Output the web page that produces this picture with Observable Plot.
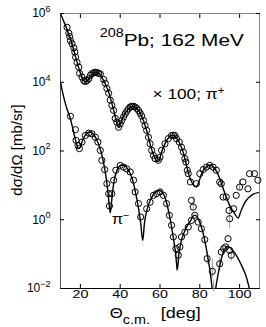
<!DOCTYPE html>
<html><head><meta charset="utf-8">
<script src="https://cdn.jsdelivr.net/npm/d3@7"></script>
<script src="https://cdn.jsdelivr.net/npm/@observablehq/plot@0.6"></script>
<style>body{margin:0;background:#fff}</style>
</head><body><div id="chart"></div>
<script>
// pi+ (x100) data points: angle [deg], log10(dσ/dΩ)
const plusTheta = [13.3,14.2,14.6,15.0,15.8,16.7,17.2,17.6,18.3,19.2,19.6,20.8,21.7,22.5,23.3,24.2,25.0,25.8,26.7,27.5,28.3,29.2,30.0,31.7,32.5,33.3,34.2,35.0,35.8,36.7,37.5,38.3,39.2,40.0,40.8,41.7,42.5,43.3,44.2,45.0,45.8,46.7,47.5,48.3,49.2,50.0,50.8,51.7,52.5,53.3,54.2,55.0,55.8,56.7,57.5,59.2,60.0,60.8,62.5,64.2,65.8,66.7,67.5,68.3,69.7,70.8,71.7,72.5,73.0,73.7,74.2,75.3,78.3,80.0,81.7,83.3,85.0,86.7,88.3,90.0,90.8,91.7,93.3,94.7,95.0,97.0,98.3,100.0,101.7,104.2,105.0,107.5,109.2];
const plusLog = [5.60,5.43,5.33,5.21,5.12,5.00,4.88,4.73,4.58,4.44,4.26,4.15,4.05,4.02,4.05,4.10,4.20,4.25,4.28,4.29,4.28,4.26,4.24,4.08,3.97,3.82,3.68,3.48,3.33,3.18,2.95,2.84,2.69,2.79,2.89,2.99,3.08,3.16,3.23,3.28,3.30,3.30,3.28,3.24,3.18,3.10,3.02,2.89,2.74,2.60,2.40,2.21,2.02,1.87,1.78,1.73,1.82,2.02,2.21,2.36,2.45,2.46,2.45,2.36,2.26,2.11,1.97,1.78,1.68,1.44,1.34,1.10,1.05,1.34,1.46,1.53,1.58,1.53,1.44,1.10,1.05,0.66,0.66,0.27,0.03,0.32,0.71,0.95,1.10,0.90,1.34,1.34,1.15];
// pi- data points
const minusTheta = [15.0,17.5,17.8,18.8,19.5,20.8,22.5,24.2,25.8,27.5,28.8,30.0,30.8,32.2,33.3,34.2,34.6,35.8,36.7,37.8,40.0,41.7,43.3,45.0,46.7,47.5,49.2,50.3,53.3,55.0,56.7,58.3,60.0,61.7,63.3,64.7,65.8,66.7,68.0,69.2,70.0,70.8,72.5,74.2,75.8,75.8,76.7,77.5,79.2,80.8,82.5,83.7,86.3,90.0,90.8,92.0,93.0,94.2,95.0,95.8];
const minusLog = [3.01,2.62,2.31,2.16,2.07,2.26,2.45,2.52,2.50,2.40,2.26,2.02,1.73,1.46,1.05,0.76,0.40,0.76,1.15,1.44,1.58,1.53,1.48,1.39,1.15,0.81,0.47,0.08,0.32,0.51,0.71,0.76,0.81,0.71,0.47,0.13,-0.16,-0.50,-0.84,-1.03,-0.79,-0.50,-0.36,-0.21,-0.02,0.56,0.37,0.13,-0.07,-0.26,-0.58,-1.13,-1.50,-1.28,-0.94,-0.84,-0.79,-0.55,-0.89,-1.03];
// theory curves
const plusCurveTheta = [10,12,14,16,18,20,21.5,23,24.5,26,27.8,29.5,31,32.5,34,35.5,37,38.3,39.3,40.5,42,43.5,45,46.5,48,49.5,51,52.5,54,55.5,57,58.5,59.4,60.5,62,63.5,65,66.5,68,69.5,71,72.5,74,75.5,77,78.3,79.5,81,82.5,84,85.5,87,88.5,90,91.5,93.3,95,97.5,99.2,100.8,103.3,106.7,110];
const plusCurveLog = [6.0,5.72,5.42,5.07,4.65,4.27,4.07,4.02,4.12,4.25,4.30,4.25,4.12,3.95,3.75,3.45,3.12,2.82,2.68,2.85,3.05,3.18,3.27,3.30,3.26,3.15,2.98,2.75,2.45,2.10,1.85,1.70,1.70,1.92,2.15,2.32,2.42,2.46,2.40,2.27,2.07,1.78,1.42,1.15,1.00,0.96,1.10,1.35,1.50,1.57,1.59,1.53,1.40,1.20,0.95,0.66,0.42,0.18,0.05,0.27,0.56,0.74,0.80];
const minusCurveTheta = [10,11,12,13,14,15,16,17,18,19,20,21,22.5,24,26,28,30,31.5,33,34.2,35,35.8,37,38.5,40,42,44,46,47.5,49,50.3,51.3,52.3,53.5,55,56.5,58,60,62,63.5,65,66.5,67.8,68.7,69.6,71,72.5,74,75.5,77,78.5,80,81.5,83,84.5,85.6,86.4,87.1,88,89,90,91,92,93.5,95,97,99,101,103,104.5,105.5,107];
const minusCurveLog = [4.0,3.72,3.48,3.27,3.10,2.93,2.70,2.45,2.22,2.07,2.12,2.30,2.47,2.55,2.52,2.35,2.05,1.70,1.20,0.60,0.20,0.60,1.15,1.45,1.58,1.58,1.46,1.20,0.85,0.40,-0.10,-0.60,-0.05,0.30,0.55,0.72,0.82,0.85,0.72,0.45,0.05,-0.45,-0.95,-1.45,-0.95,-0.55,-0.32,-0.15,-0.02,0.13,0.10,-0.08,-0.35,-0.75,-1.25,-1.70,-2.10,-2.60,-2.00,-1.65,-1.35,-1.10,-0.92,-0.78,-0.80,-0.92,-1.10,-1.33,-1.60,-1.90,-2.20,-2.70];
// error bars: angle, log10 low, log10 high
const errTheta = [95.0,100.0,76.7,68.3,83.7,86.3,87.0,90.0,95.8];
const errLo = [-0.25,0.85,0.30,-1.50,-1.30,-1.70,-2.10,-1.50,-1.20];
const errHi = [0.40,1.15,0.66,-1.20,-0.95,-1.15,-1.75,-1.10,-0.85];
const xTicks = [20,40,60,80,100];
const yTicks = [1e-2,1,1e2,1e4,1e6];

const toRows = (t, l) => t.map((th, i) => ({theta: th, v: Math.pow(10, l[i])}));
const plus = toRows(plusTheta, plusLog);
const minus = toRows(minusTheta, minusLog);
const plusCurve = toRows(plusCurveTheta, plusCurveLog);
const minusCurve = toRows(minusCurveTheta, minusCurveLog);
const errs = errTheta.map((t, i) => ({theta: t, lo: Math.pow(10, errLo[i]), hi: Math.pow(10, errHi[i])}));

const font = "'Liberation Sans', Arial, Helvetica, sans-serif";
const plot = Plot.plot({
  width: 266, height: 327,
  marginTop: 13, marginRight: 7, marginBottom: 39, marginLeft: 60,
  style: {fontFamily: font, fontSize: "12px", background: "white", color: "black"},
  x: {domain: [10, 110]},
  y: {type: "log", domain: [1e-2, 1e6]},
  marks: [
    Plot.frame({stroke: "#888"}),
    Plot.ruleY([1e-2], {stroke: "black"}),
    Plot.ruleX([10], {stroke: "#555"}),
    Plot.axisX({ticks: xTicks, tickSize: 0, tickPadding: 2, fontSize: 11, tickFormat: d => String(d), label: null}),
    Plot.axisX({ticks: xTicks, tickSize: -4, tickFormat: () => "", label: null}),
    Plot.axisX({anchor: "top", ticks: xTicks, tickSize: -4, tickFormat: () => "", label: null}),
    Plot.axisY({ticks: yTicks, tickSize: 0, tickPadding: 10, tickFormat: d => "10^" + Math.round(Math.log10(d)), label: null}),
    Plot.axisY({ticks: yTicks, tickSize: -4, tickFormat: () => "", label: null}),
    Plot.axisY({anchor: "right", ticks: yTicks, tickSize: -4, tickFormat: () => "", label: null}),
    Plot.ruleX(errs, {x: "theta", y1: "lo", y2: "hi", stroke: "#999", strokeWidth: 1}),
    Plot.line(plusCurve, {x: "theta", y: "v", curve: "catmull-rom", stroke: "black", strokeWidth: 1.4, clip: true}),
    Plot.line(minusCurve, {x: "theta", y: "v", curve: "catmull-rom", stroke: "black", strokeWidth: 1.4, clip: true}),
    Plot.dot(plus, {x: "theta", y: "v", r: 3.1, stroke: "black", fill: "none", strokeWidth: 1}),
    Plot.dot(minus, {x: "theta", y: "v", r: 3.1, stroke: "black", fill: "none", strokeWidth: 1})
  ]
});

const svg = d3.select(plot);
// superscript exponents on y tick labels
svg.selectAll('g[aria-label="y-axis tick label"] text').each(function() {
  const s = this.textContent;
  if (!s.includes("^")) return;
  const [b, e] = s.split("^");
  this.textContent = "";
  const t = d3.select(this);
  t.append("tspan").text(b);
  t.append("tspan").attr("dy", "-0.6em").attr("font-size", "9px").text(e.replace("-", "\u2212"));
});
// wider letterforms as in the reference
svg.selectAll('g[aria-label="x-axis tick label"] text').each(function() {
  const tr = this.getAttribute("transform") || "";
  this.setAttribute("transform", tr + " scale(1.3,1)");
});

const xs = plot.scale("x"), ys = plot.scale("y");
function addText(theta, lg, parts, size, sx, anchor) {
  const t = svg.append("text")
    .attr("transform", `translate(${xs.apply(theta)},${ys.apply(Math.pow(10, lg))}) scale(${sx},1)`)
    .attr("font-family", font).attr("font-size", size + "px")
    .attr("text-anchor", anchor || "start").attr("fill", "black");
  parts.forEach(p => {
    const sp = t.append("tspan").text(p.t);
    if (p.dy) sp.attr("dy", p.dy);
    if (p.dx) sp.attr("dx", p.dx);
    if (p.size) sp.attr("font-size", p.size + "px");
  });
  return t;
}
// annotations (positions in data coordinates)
addText(30, 5.30, [{t: "208"}], 12, 1.2);
addText(42, 5.03, [{t: "Pb; 162 MeV"}], 16, 1.3);
addText(56.5, 3.50, [{t: "\u00d7 100; \u03c0"}, {t: "+", dy: "-0.5em", size: 10}], 15, 1.15);
addText(36, -0.13, [{t: "\u03c0"}, {t: "\u2212", dy: "-0.5em", size: 10}], 15, 1.1);

// axis labels
svg.append("text").attr("transform", "translate(22,150) rotate(-90)")
  .attr("font-family", font).attr("font-size", "15px").attr("text-anchor", "middle")
  .text("d\u03c3/d\u03a9 [mb/sr]");
addText(35, -2.87, [
  {t: "\u0398", size: 14},
  {t: "c.m.", size: 12, dy: 6},
  {t: "[deg]", size: 15, dy: -6, dx: 9}
], 14, 1.2);

document.getElementById("chart").appendChild(plot);
</script>
</body></html>
